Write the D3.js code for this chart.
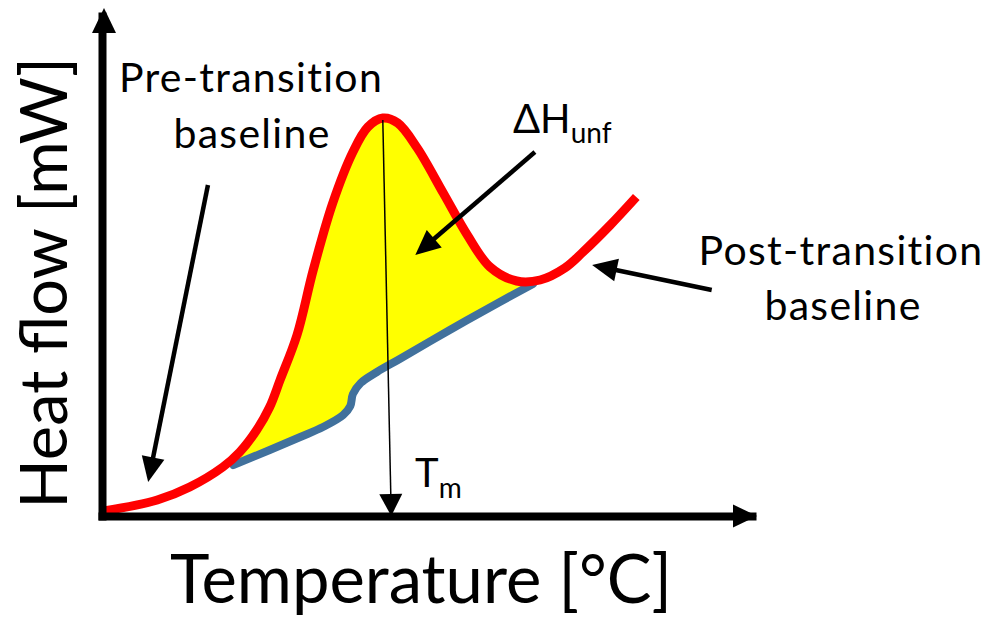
<!DOCTYPE html>
<html>
<head>
<meta charset="utf-8">
<script src="https://cdn.jsdelivr.net/npm/d3@7"></script>
<style>
  body { margin: 0; background: #fff; }
  svg text { font-family: Lato, "Open Sans", sans-serif; fill: #000; }
</style>
</head>
<body>
<svg id="chart" width="992" height="617"></svg>
<script>
'use strict'

// schematic DSC thermogram, arbitrary units (0-100 on both axes)
const measuredT = [0.3, 8.5, 13.5, 18.6, 21.2, 23.8, 25.8, 27.4, 30.0, 32.5, 35.5, 38.6, 40.9, 43.2,
                   45.5, 48.5, 52.5, 56.2, 59.7, 63.8, 67.4, 71.2, 74.0, 78.2, 82.2];
const measuredH = [1.0, 3.2, 5.8, 9.8, 12.8, 17.2, 21.8, 27.2, 36.2, 49.2, 62.6, 72.8, 77.8, 79.6,
                   78.6, 73.6, 64.6, 56.2, 49.8, 47.0, 47.2, 49.6, 52.8, 58.2, 63.8];

// interpolated baseline under the transition peak
const baselineT = [20.2, 25.8, 30.5, 34.0, 37.1, 38.2, 38.6, 39.8, 42.3, 45.8, 53.5, 61.2, 66.3];
const baselineH = [10.2, 13.2, 15.8, 17.8, 20.2, 22.0, 24.4, 26.6, 28.8, 31.4, 37.2, 42.8, 46.4];

// annotation arrows: [T, H] of tail and tip
const arrowNames = ["pre", "dH", "post", "tm"];
const arrowFrom  = [[16.3, 66.2], [66.6, 72.8], [93.8, 45.2], [43.2, 79.2]];
const arrowTo    = [[7.1, 6.8], [48.2, 52.2], [75.4, 50.2], [44.5, 0]];

const svg = d3.select("#chart");

const x = d3.scaleLinear().domain([0, 100]).range([102, 752]);
const y = d3.scaleLinear().domain([0, 100]).range([516, 16]);

const red  = measuredT.map((t, i) => [t, measuredH[i]]);
const blue = baselineT.map((t, i) => [t, baselineH[i]]);

const line = d3.line()
  .x(d => x(d[0]))
  .y(d => y(d[1]))
  .curve(d3.curveCatmullRom.alpha(0.5));

// yellow area between the curve and the baseline
const tMin = d3.min(baselineT), tMax = d3.max(baselineT);
const redPart = red.filter(d => d[0] >= tMin && d[0] <= tMax);
const areaPath = line(redPart) + line(blue.slice().reverse()).replace(/^M/, "L") + "Z";

svg.append("path")
  .attr("d", areaPath)
  .attr("fill", "#ffff00")
  .attr("stroke", "none");

svg.append("path")
  .attr("d", line(blue))
  .attr("fill", "none")
  .attr("stroke", "#41719c")
  .attr("stroke-width", 8)
  .attr("stroke-linecap", "round");

svg.append("path")
  .attr("d", line(red))
  .attr("fill", "none")
  .attr("stroke", "#ff0000")
  .attr("stroke-width", 9)
  .attr("stroke-linecap", "butt");

// axes without ticks, just the thick domain lines
svg.append("g")
  .attr("class", "axis axis-x")
  .attr("transform", `translate(0,${y(0)})`)
  .call(d3.axisBottom(x).ticks(0).tickSizeOuter(0));

svg.append("g")
  .attr("class", "axis axis-y")
  .attr("transform", `translate(${x(0)},0)`)
  .call(d3.axisLeft(y).ticks(0).tickSizeOuter(0));

svg.selectAll(".axis .domain")
  .attr("stroke", "#000")
  .attr("stroke-width", 8)
  .attr("stroke-linecap", "square");

// arrowhead helper: tip at (tx,ty), pointing along (dx,dy)
function head(tx, ty, dx, dy, len, wid) {
  let n = Math.hypot(dx, dy);
  let ux = dx / n, uy = dy / n;
  let bx = tx - ux * len, by = ty - uy * len;
  return [[tx, ty], [bx - uy * wid / 2, by + ux * wid / 2], [bx + uy * wid / 2, by - ux * wid / 2]];
}

// axis arrowheads
svg.append("polygon")
  .attr("points", head(x(100) + 5, y(0), 1, 0, 24, 23).join(" "))
  .attr("fill", "#000");
svg.append("polygon")
  .attr("points", head(x(0) + 2, y(100) - 8, 0, -1, 25, 24).join(" "))
  .attr("fill", "#000");

// annotation arrows
arrowNames.forEach((name, i) => {
  let x1 = x(arrowFrom[i][0]), y1 = y(arrowFrom[i][1]);
  let x2 = x(arrowTo[i][0]),   y2 = y(arrowTo[i][1]);
  let thin = name === "tm";
  let len = thin ? 22 : 25, wid = 23;
  let pts = head(x2, y2, x2 - x1, y2 - y1, len, wid);
  let n = Math.hypot(x2 - x1, y2 - y1);
  svg.append("line")
    .attr("x1", x1).attr("y1", y1)
    .attr("x2", x2 - (x2 - x1) / n * (len - 2))
    .attr("y2", y2 - (y2 - y1) / n * (len - 2))
    .attr("stroke", "#000")
    .attr("stroke-width", thin ? 1.5 : 4.5);
  svg.append("polygon")
    .attr("points", pts.join(" "))
    .attr("fill", "#000");
});

// labels
function label(txt, px, py, size, spacing) {
  return svg.append("text")
    .attr("x", px).attr("y", py)
    .attr("font-size", size)
    .attr("letter-spacing", spacing || 0)
    .attr("text-anchor", "middle")
    .text(txt);
}

label("Pre-transition", 251, 92, 41, 1.3);
label("baseline", 252, 148, 41, 1.3);
label("Post-transition", 841, 265, 41, 1.3);
label("baseline", 843, 320, 41, 1.3);

let dh = svg.append("text").attr("x", 513).attr("y", 133).attr("font-size", 40);
dh.append("tspan").text("\u0394H");
dh.append("tspan").attr("dy", 10).attr("font-size", 28).text("unf");

let tm = svg.append("text").attr("x", 415).attr("y", 487).attr("font-size", 40);
tm.append("tspan").text("T");
tm.append("tspan").attr("dy", 11).attr("font-size", 28).text("m");

label("Temperature [\u00b0C]", 421, 603, 67);

svg.append("text")
  .attr("transform", "translate(67,283) rotate(-90)")
  .attr("font-size", 65)
  .attr("text-anchor", "middle")
  .text("Heat flow [mW]");
</script>
</body>
</html>
